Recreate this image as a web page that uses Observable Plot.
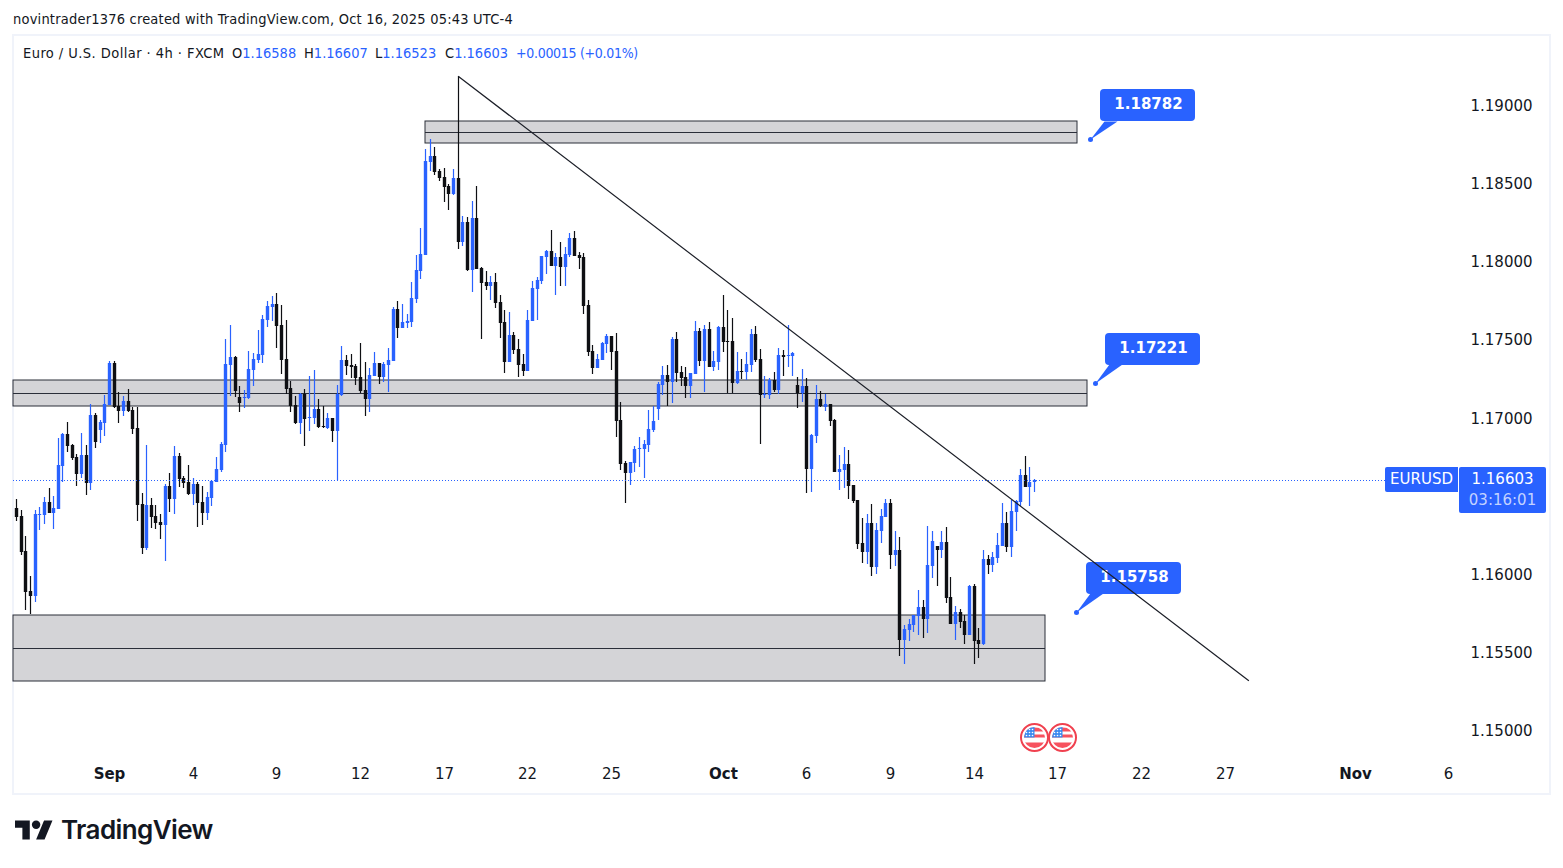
<!DOCTYPE html>
<html>
<head>
<meta charset="utf-8">
<script src="https://cdn.jsdelivr.net/npm/d3@7"></script>
<script src="https://cdn.jsdelivr.net/npm/@observablehq/plot@0.6"></script>
<style>
html,body{margin:0;padding:0;background:#fff;overflow:hidden;}
body{width:1563px;height:868px;font-family:"DejaVu Sans Condensed","DejaVu Sans",sans-serif;color:#131722;}
#head{height:34px;font-size:14.5px;line-height:39px;padding-left:13px;white-space:nowrap;letter-spacing:.2px;}
#wrap{position:relative;height:760px;width:1563px;}
#frame{position:absolute;left:12px;top:0;width:1535px;height:757px;border:2px solid #f0f3fa;}
#chart{position:absolute;left:0;top:0;}
#chart svg{display:block;}
.leg{position:absolute;top:10px;font-size:14.5px;line-height:19px;white-space:nowrap;}
.leg b{font-weight:normal;color:#2962ff;}
.tag{position:absolute;background:#2962ff;color:#fff;text-align:center;font-size:15px;font-family:"DejaVu Sans",sans-serif;}
#foot{position:relative;height:74px;}
#foot svg{position:absolute;left:15px;top:22px;}
#foot span{position:absolute;left:61px;top:18px;font:600 26px/36px Inter,sans-serif;letter-spacing:-0.6px;color:#131722;}
</style>
</head>
<body>
<div id="head">novintrader1376 created with TradingView.com, Oct 16, 2025 05:43 UTC-4</div>
<div id="wrap">
  <div id="frame"></div>
  <div id="chart"></div>
  <div class="leg" style="left:23px;letter-spacing:.44px">Euro / U.S. Dollar · 4h · FXCM</div>
  <div class="leg" style="left:232px">O<b>1.16588</b></div>
  <div class="leg" style="left:304px">H<b>1.16607</b></div>
  <div class="leg" style="left:375px">L<b>1.16523</b></div>
  <div class="leg" style="left:445px">C<b>1.16603</b></div>
  <div class="leg" style="left:516px;font-size:14px;letter-spacing:-.3px"><b>+0.00015 (+0.01%)</b></div>
  <div class="tag" style="left:1385px;top:433px;width:73px;height:25px;line-height:25px;border-radius:2px 0 0 2px;">EURUSD</div>
  <div class="tag" style="left:1459px;top:433px;width:87px;height:46px;border-radius:2px;line-height:21px;padding-top:2px;box-sizing:border-box;">1.16603<br><span style="color:#c3d2ff">03:16:01</span></div>
</div>
<div id="foot">
  <svg width="38" height="30" viewBox="0 0 36 28"><path fill="#131722" d="M14 22H7V11H0V4h14v18zM28 22h-8l7.5-18h8L28 22z"/><circle cx="20" cy="8" r="4" fill="#131722"/></svg>
  <span>TradingView</span>
</div>
<script>
// EUR/USD 4h candles, in price points (1 point = 0.00001)
const open = [
116421,116370,116146,115890,115858,116376,116376,116459,116389,116414,
116690,116894,116824,116747,116638,116760,116581,117016,116920,116965,
117080,117349,117074,117042,117106,117048,116933,116446,116165,116440,
116370,116331,116312,116562,116478,116754,116613,116587,116510,116574,
116459,116389,116485,116587,116664,116824,117336,117387,117131,117125,
117125,117304,117368,117400,117624,117707,117726,117592,117374,117189,
117080,116965,117150,116997,116997,117054,116946,116933,116997,116914,
117144,117368,117336,117330,117259,117176,117118,117266,117349,117259,
117336,117362,117694,117573,117605,117611,117758,117938,118040,118635,
118674,118578,118539,118482,118430,118533,118123,118251,117944,118277,
117957,117867,117842,117867,117739,117611,117355,117528,117438,117342,
117298,117618,117822,117874,118027,118066,117970,118027,117963,118040,
118149,118040,118027,117720,117426,117317,117368,117470,117522,117426,
116984,116709,116645,116709,116798,116798,116824,116920,117054,117208,
117272,117227,117502,117291,117259,117202,117278,117554,117362,117566,
117323,117355,117579,117490,117490,117221,117298,117291,117336,117534,
117374,117144,117144,117240,117176,117400,117394,117394,117208,117157,
117202,116670,116882,117118,117067,117086,116984,116651,116664,116702,
116568,116472,116197,116139,116325,116043,116274,116363,116453,116120,
116152,115576,115640,115672,115730,115787,115710,116050,116178,116152,
116203,115851,115678,115755,115698,115608,115922,115576,115550,116094,
116056,116101,116178,116325,116171,116395,116459,116632,116555,116588];
const high = [
116478,116408,116242,115986,116408,116427,116491,116549,116498,116869,
116901,116971,116830,116766,116901,116824,117086,117029,116984,117144,
117362,117362,117163,117138,117182,117067,117067,116517,116824,116485,
116440,116382,116574,116645,116818,116773,116626,116696,116613,116587,
116562,116523,116600,116747,116843,117502,117592,117394,117202,117176,
117426,117413,117560,117656,117746,117778,117797,117720,117624,117234,
117138,117157,117182,117266,117304,117118,117074,117029,116997,117208,
117458,117400,117406,117342,117477,117355,117317,117419,117349,117355,
117445,117707,117746,117726,117662,117867,118040,118213,118718,118782,
118731,118590,118597,118494,118590,119186,118290,118283,118386,118482,
117963,117938,117906,117925,117784,117688,117675,117547,117502,117406,
117688,117874,117899,118034,118072,118200,118053,118123,118091,118181,
118194,118059,118053,117752,117464,117406,117483,117534,117522,117541,
117099,116722,116715,116818,116875,116856,117048,117074,117227,117330,
117336,117515,117547,117330,117323,117285,117618,117573,117592,117611,
117426,117586,117784,117688,117637,117419,117374,117419,117566,117586,
117438,117266,117253,117291,117445,117432,117592,117419,117259,117310,
117253,116894,117208,117170,117150,117086,116990,116760,116811,116792,
116568,116472,116357,116382,116446,116325,116414,116478,116478,116274,
116235,115672,115710,115736,115896,115832,116306,116274,116178,116274,
116299,115979,115794,115774,115736,115928,115934,115653,116152,116120,
116139,116261,116453,116395,116472,116472,116670,116754,116683,116607];
const low = [
116338,116120,115768,115742,115819,116280,116318,116389,116286,116414,
116587,116779,116728,116562,116613,116504,116536,116805,116837,116882,
117080,117061,116965,117010,117035,116894,116338,116126,116152,116293,
116286,116222,116082,116395,116382,116555,116549,116504,116440,116299,
116312,116344,116434,116587,116651,116779,117138,117131,117035,117061,
117118,117202,117349,117349,117579,117618,117445,117278,117150,117035,
116958,116894,116818,116914,116958,116933,116933,116926,116843,116600,
117138,117272,117253,117208,117157,117010,117035,117266,117214,117227,
117163,117362,117509,117573,117573,117579,117733,117886,118040,118578,
118552,118514,118379,118328,118424,118078,118098,117938,117803,117950,
117502,117816,117752,117701,117509,117285,117355,117406,117259,117266,
117298,117618,117624,117854,117918,117970,117784,117842,117842,118027,
118034,117950,117662,117394,117278,117317,117368,117413,117304,116875,
116664,116453,116568,116651,116683,116613,116779,116907,116984,117144,
117074,117093,117227,117202,117125,117125,117278,117330,117163,117323,
117298,117304,117419,117157,117157,117214,117246,117240,117291,117355,
116830,117125,117118,117163,117150,117266,117323,117266,117061,117099,
116517,116523,116837,117067,117042,116946,116651,116536,116549,116478,
116453,116158,116069,116062,115986,115998,116197,116363,116030,116050,
115474,115422,115570,115627,115608,115589,115621,115973,115922,116101,
115813,115678,115576,115653,115550,115608,115422,115461,115544,115998,
116011,116069,116178,116139,116107,116274,116434,116555,116434,116523];
const close = [
116363,116139,115883,115858,116382,116382,116459,116389,116421,116696,
116894,116818,116741,116638,116760,116581,117016,116843,116971,117086,
117349,117067,117042,117106,117042,116926,116440,116165,116440,116363,
116325,116312,116562,116478,116754,116606,116581,116510,116574,116453,
116389,116491,116594,116670,116830,117342,117387,117170,117093,117131,
117310,117374,117406,117630,117714,117726,117586,117368,117182,117074,
116965,117150,116990,117003,117054,116939,116939,116997,116914,117150,
117368,117330,117323,117253,117170,117118,117272,117349,117259,117342,
117368,117694,117573,117611,117618,117765,117944,118046,118642,118674,
118571,118533,118475,118430,118533,118123,118251,117944,118277,117950,
117861,117842,117867,117733,117605,117355,117528,117432,117336,117298,
117624,117829,117880,118034,118066,117970,118027,117963,118046,118149,
118034,118021,117714,117419,117317,117374,117477,117522,117419,116978,
116702,116645,116715,116798,116805,116830,116926,116978,117214,117272,
117227,117502,117285,117253,117202,117285,117554,117362,117566,117323,
117362,117579,117483,117483,117221,117298,117291,117342,117534,117368,
117144,117150,117240,117176,117400,117387,117400,117413,117157,117202,
116670,116888,117118,117074,117086,116978,116651,116670,116702,116562,
116466,116190,116139,116325,116043,116280,116370,116453,116120,116152,
115576,115646,115678,115736,115787,115710,116056,116210,116152,116203,
115845,115678,115755,115691,115608,115922,115570,115550,116094,116056,
116107,116184,116325,116171,116402,116466,116632,116555,116587,116603];

// Axis: candle numbers of the time labels
const tickBars = [20,38,56,74,92,110,128,152,170,188,206,224,242,260,288,308];
const tickLabels = ["Sep","4","9","12","17","22","25","Oct","6","9","14","17","22","27","Nov","6"];
const monthLabels = ["Sep","Oct","Nov"];
const priceTicks = [1.15,1.155,1.16,1.17,1.175,1.18,1.185,1.19];

// Horizontal zones: first bar, last bar, upper and lower price
const zoneStart = [87.98,-0.645,-0.645];
const zoneEnd = [228.2,230.4,221.3];
const zoneTop = [1.188976,1.1724,1.15736];
const zoneBottom = [1.187568,1.170736,1.153136];

// Trend line: bar, price
const trendBars = [95.07,265.0];
const trendPrices = [1.191856,1.1532];

// Callouts: anchor bar and price
const calloutBars = [231.0,232.1,228.0];
const calloutPrices = [1.18782,1.17221,1.15758];

// Economic events markers
const eventBars = [218.97,225.0];
const eventPrice = 1.14955;

const lastPrice = 1.16603;
const lastPriceEndBar = 294.5;
const xDomain = [-0.645,310.6];
const yDomain = [1.148272,1.19448];
const perPxX = 1/4.649, perPxY = 1/15625;

const BLUE = "#2962ff", BLACK = "#0e0f13", INK = "#2a2e39", TEXT = "#131722";

const candles = open.map((o,i) => ({i, o:o/1e5, h:high[i]/1e5, l:low[i]/1e5, c:close[i]/1e5, up:close[i]>=o}));
const zones = zoneStart.map((s,i) => ({s, e:zoneEnd[i], t:zoneTop[i], b:zoneBottom[i], m:(zoneTop[i]+zoneBottom[i])/2}));
const trend = trendBars.map((x,i) => ({x, y:trendPrices[i]}));
const callouts = calloutBars.map((x,i) => ({x, y:calloutPrices[i]}));
const tails = callouts.flatMap((c,k) => [
  {k, x:c.x, y:c.y},
  {k, x:c.x+14*perPxX, y:c.y+18.5*perPxY},
  {k, x:c.x+27*perPxX, y:c.y+18.5*perPxY}
]);

const flagSvg = `<svg xmlns="http://www.w3.org/2000/svg" width="60" height="60" viewBox="0 0 30 30"><defs><clipPath id="c"><circle cx="15" cy="15" r="10.5"/></clipPath></defs><circle cx="15" cy="15" r="13.5" fill="#fff" stroke="#f0414f" stroke-width="2"/><g clip-path="url(#c)"><rect width="30" height="30" fill="#fff"/><rect x="4" y="5" width="22" height="4" fill="#f7525f"/><rect x="4" y="12" width="22" height="3" fill="#f7525f"/><rect x="4" y="20" width="22" height="6" fill="#f7525f"/><rect x="4" y="4" width="11" height="11" fill="#3d8bf0"/><g fill="#fff"><circle cx="7" cy="7" r=".8"/><circle cx="10" cy="7" r=".8"/><circle cx="13" cy="7" r=".8"/><circle cx="7" cy="10" r=".8"/><circle cx="10" cy="10" r=".8"/><circle cx="13" cy="10" r=".8"/><circle cx="7" cy="13" r=".8"/><circle cx="10" cy="13" r=".8"/><circle cx="13" cy="13" r=".8"/></g></g></svg>`;
const flagSrc = "data:image/svg+xml," + encodeURIComponent(flagSvg);

const label = i => tickLabels[tickBars.indexOf(i)];
const isMonth = i => monthLabels.includes(label(i));

const chart = Plot.plot({
  width: 1563, height: 760,
  marginTop: 1, marginBottom: 37, marginLeft: 13, marginRight: 103,
  style: {background:"transparent", fontFamily:'"DejaVu Sans",sans-serif', fontSize:"15px", color:TEXT, overflow:"visible"},
  x: {domain:xDomain, round:true, axis:null},
  y: {domain:yDomain, round:true, axis:null},
  marks: [
    Plot.rect(zones, {x1:"s", x2:"e", y1:"b", y2:"t", fill:"#d4d4d7", stroke:INK, strokeWidth:1}),
    Plot.ruleY(zones, {y:"m", x1:"s", x2:"e", stroke:INK, strokeWidth:1}),
    Plot.ruleX(candles, {x:"i", y1:"l", y2:"h", stroke:d=>d.up?BLUE:BLACK, strokeWidth:1.2}),
    Plot.ruleX(candles, {x:"i", y1:"o", y2:"c", stroke:d=>d.up?BLUE:BLACK, strokeWidth:3.4}),
    Plot.ruleY([lastPrice], {x1:xDomain[0], x2:lastPriceEndBar, stroke:BLUE, strokeWidth:1, strokeDasharray:"1,2"}),
    Plot.line(tails, {x:"x", y:"y", z:"k", fill:BLUE, stroke:null, curve:"linear-closed"}),
    Plot.dot(callouts, {x:"x", y:"y", r:2.5, fill:BLUE}),
    Plot.rect(callouts, {x1:d=>d.x+10*perPxX, x2:d=>d.x+105*perPxX, y1:d=>d.y+18*perPxY, y2:d=>d.y+50*perPxY, fill:BLUE, rx:4, ry:4}),
    Plot.text(callouts, {x:d=>d.x+58*perPxX, y:d=>d.y+35*perPxY, text:d=>d.y.toFixed(5), fill:"#fff", fontSize:15, fontWeight:700}),
    Plot.line(trend, {x:"x", y:"y", stroke:"#1c1f28", strokeWidth:1.2}),
    Plot.image(eventBars, {x:d=>d, y:()=>eventPrice, src:flagSrc, width:30, height:30}),
    Plot.axisX({anchor:"bottom", ticks:tickBars.filter(i=>!isMonth(i)), tickFormat:label, tickSize:0, tickPadding:11, fill:TEXT, fontSize:15, label:null}),
    Plot.axisX({anchor:"bottom", ticks:tickBars.filter(isMonth), tickFormat:label, tickSize:0, tickPadding:11, fill:TEXT, fontSize:15, fontWeight:600, label:null}),
    Plot.axisY({anchor:"right", ticks:priceTicks, tickFormat:d=>d.toFixed(5), tickSize:0, tickPadding:10, dy:1, fill:TEXT, fontSize:15, label:null})
  ]
});
document.getElementById("chart").append(chart);
</script>
</body>
</html>
